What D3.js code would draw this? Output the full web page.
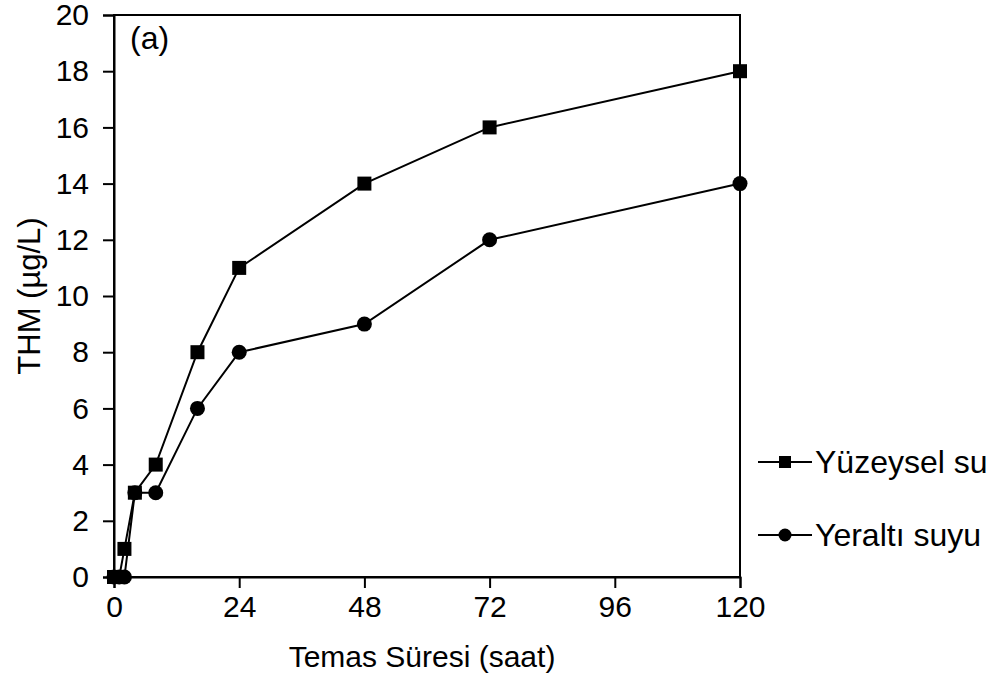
<!DOCTYPE html>
<html>
<head>
<script src="https://d3js.org/d3.v7.min.js"></script>
<style>
  body { margin: 0; background: #fff; }
  text { font-family: "Liberation Sans", Arial, sans-serif; fill: #000; }
</style>
</head>
<body>
<svg width="999" height="685"></svg>
<script>
// contact time (h) and THM (ug/L)
var hoursSurface = [0, 1, 2, 4, 8, 16, 24, 48, 72, 120];
var thmSurface   = [0, 0, 1, 3, 4, 8, 11, 14, 16, 18];
var hoursGround  = [0, 1, 2, 4, 8, 16, 24, 48, 72, 120];
var thmGround    = [0, 0, 0, 3, 3, 6, 8, 9, 12, 14];
var xTicks = [0, 24, 48, 72, 96, 120];
var yTicks = [0, 2, 4, 6, 8, 10, 12, 14, 16, 18, 20];
var seriesNames = ["Yüzeysel su", "Yeraltı suyu"];

var svg = d3.select("svg");
var plotLeft = 114, plotRight = 740, plotTop = 15, plotBottom = 577;

var x = d3.scaleLinear().domain([0, 120]).range([plotLeft, plotRight]);
var y = d3.scaleLinear().domain([0, 20]).range([plotBottom, plotTop]);

// frame
svg.append("rect")
  .attr("x", plotLeft).attr("y", plotTop)
  .attr("width", plotRight - plotLeft).attr("height", plotBottom - plotTop)
  .attr("fill", "none").attr("stroke", "#000").attr("stroke-width", 2);

var xAxis = svg.append("g")
  .attr("transform", "translate(0," + plotBottom + ")")
  .call(d3.axisBottom(x).tickValues(xTicks).tickSize(11).tickPadding(8));
var yAxis = svg.append("g")
  .attr("transform", "translate(" + plotLeft + ",0)")
  .call(d3.axisLeft(y).tickValues(yTicks).tickSize(11).tickPadding(14));

[xAxis, yAxis].forEach(function(g) {
  g.select(".domain").attr("stroke-width", 2);
  g.selectAll(".tick line").attr("stroke-width", 2);
  g.selectAll("text").attr("font-size", 30).style("font-family", "'Liberation Sans', Arial, sans-serif");
});

svg.append("text")
  .attr("x", (plotLeft + plotRight) / 2 - 5).attr("y", 667)
  .attr("text-anchor", "middle").attr("font-size", 30)
  .text("Temas Süresi (saat)");

svg.append("text")
  .attr("transform", "translate(40," + ((plotTop + plotBottom) / 2) + ") rotate(-90)")
  .attr("text-anchor", "middle").attr("font-size", 31)
  .text("THM (µg/L)");

svg.append("text")
  .attr("x", 130).attr("y", 49).attr("font-size", 32)
  .text("(a)");

var line = d3.line()
  .x(function(d) { return x(d[0]); })
  .y(function(d) { return y(d[1]); });

var surface = d3.zip(hoursSurface, thmSurface);
var ground = d3.zip(hoursGround, thmGround);

svg.append("path").datum(ground).attr("d", line)
  .attr("fill", "none").attr("stroke", "#000").attr("stroke-width", 2);
svg.append("path").datum(surface).attr("d", line)
  .attr("fill", "none").attr("stroke", "#000").attr("stroke-width", 2);

svg.selectAll("circle.g").data(ground).enter().append("circle")
  .attr("cx", function(d) { return x(d[0]); })
  .attr("cy", function(d) { return y(d[1]); })
  .attr("r", 7.5).attr("fill", "#000");

svg.selectAll("rect.s").data(surface).enter().append("rect")
  .attr("x", function(d) { return x(d[0]) - 7; })
  .attr("y", function(d) { return y(d[1]) - 7; })
  .attr("width", 14).attr("height", 14).attr("fill", "#000");

// legend
var legend = svg.selectAll("g.leg").data(seriesNames).enter().append("g")
  .attr("transform", function(d, i) { return "translate(758," + (462 + i * 73) + ")"; });
legend.append("line").attr("x1", 0).attr("x2", 54)
  .attr("stroke", "#000").attr("stroke-width", 2);
legend.each(function(d, i) {
  var g = d3.select(this);
  if (i === 0) {
    g.append("rect").attr("x", 21).attr("y", -6).attr("width", 12).attr("height", 12).attr("fill", "#000");
  } else {
    g.append("circle").attr("cx", 27).attr("r", 6.5).attr("fill", "#000");
  }
});
legend.append("text").attr("x", 57).attr("y", 11).attr("font-size", 32)
  .text(function(d) { return d; });
</script>
</body>
</html>
